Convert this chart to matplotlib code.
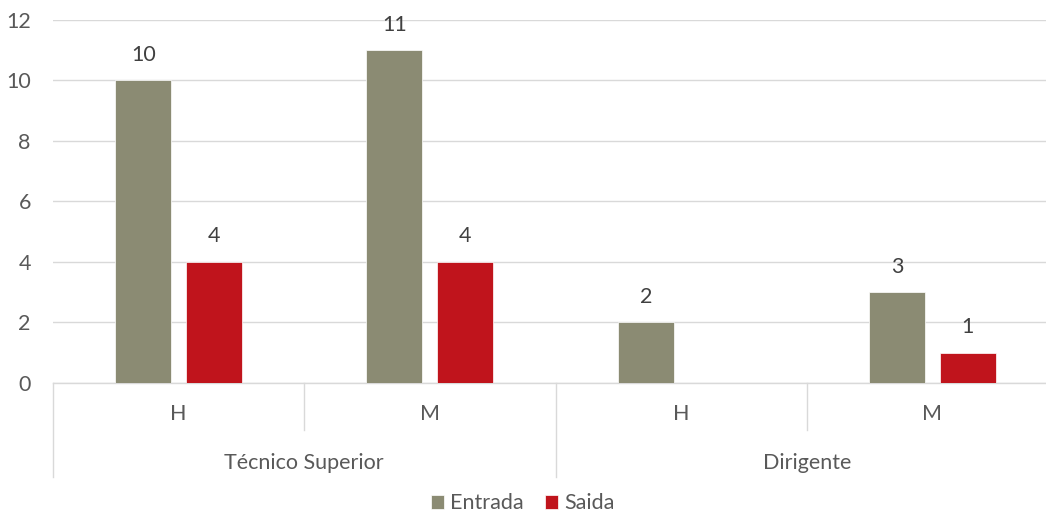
import matplotlib.pyplot as plt
import numpy as np

# data
groups = ["Técnico Superior", "Dirigente"]
sexes = ["H", "M", "H", "M"]
entrada = [10, 11, 2, 3]
saida = [4, 4, None, 1]

c_entrada = "#8B8B73"
c_saida = "#C0141C"
txt = "#595959"
grid_c = "#D9D9D9"
fs = 15.5

plt.rcParams['font.family'] = ['Lato', 'DejaVu Sans']

fig = plt.figure(figsize=(10.46, 5.12), dpi=100)
ax = fig.add_axes([0.0507, 0.252, 0.9608, 0.709])

x = np.arange(len(sexes)) + 0.5
w = 0.223
off = 0.141

sa_vals = [v if v is not None else 0 for v in saida]
b1 = ax.bar(x - off, entrada, w, color=c_entrada, edgecolor="white", linewidth=0.5, zorder=3, label="Entrada")
b2 = ax.bar(x + off, sa_vals, w, color=c_saida, edgecolor="white", linewidth=0.5, zorder=3, label="Saida")

for xi, v in zip(x - off, entrada):
    ax.text(xi, v + 0.85, str(v), ha="center", va="center", fontsize=fs, color="#404040")
for xi, v in zip(x + off, saida):
    if v is not None:
        ax.text(xi, v + 0.85, str(v), ha="center", va="center", fontsize=fs, color="#404040")

ax.set_xlim(0, len(sexes))
ax.set_ylim(0, 12)
ax.set_yticks(range(0, 13, 2))
ax.tick_params(axis="y", length=0, labelsize=fs, labelcolor=txt, pad=16)
ax.set_xticks([])
ax.yaxis.grid(True, color=grid_c, linewidth=1, zorder=0)
for s in ["top", "right", "left"]:
    ax.spines[s].set_visible(False)
ax.spines["bottom"].set_color(grid_c)
ax.spines["bottom"].set_linewidth(1)

# category axis: sex labels and group labels with separators
trans = ax.get_xaxis_transform()
for i, lab in enumerate(sexes):
    ax.text(x[i], -0.085, lab, transform=trans, ha="center", va="center", fontsize=fs, color=txt)
for k in range(len(sexes) + 1):
    bottom = -0.26 if k % 2 == 0 else -0.13
    ax.plot([k, k], [0, bottom], transform=trans, color=grid_c, lw=1, clip_on=False)
for g, lab in enumerate(groups):
    ax.text(2 * g + 1, -0.22, lab, transform=trans, ha="center", va="center", fontsize=fs, color=txt)

fig.legend(handles=[b1, b2], loc="center", bbox_to_anchor=(0.5, 0.017), ncol=2, frameon=False,
           fontsize=fs, labelcolor=txt, handlelength=0.6, handleheight=0.6, handletextpad=0.3,
           columnspacing=1.0)

fig.savefig("out.png", dpi=100)
